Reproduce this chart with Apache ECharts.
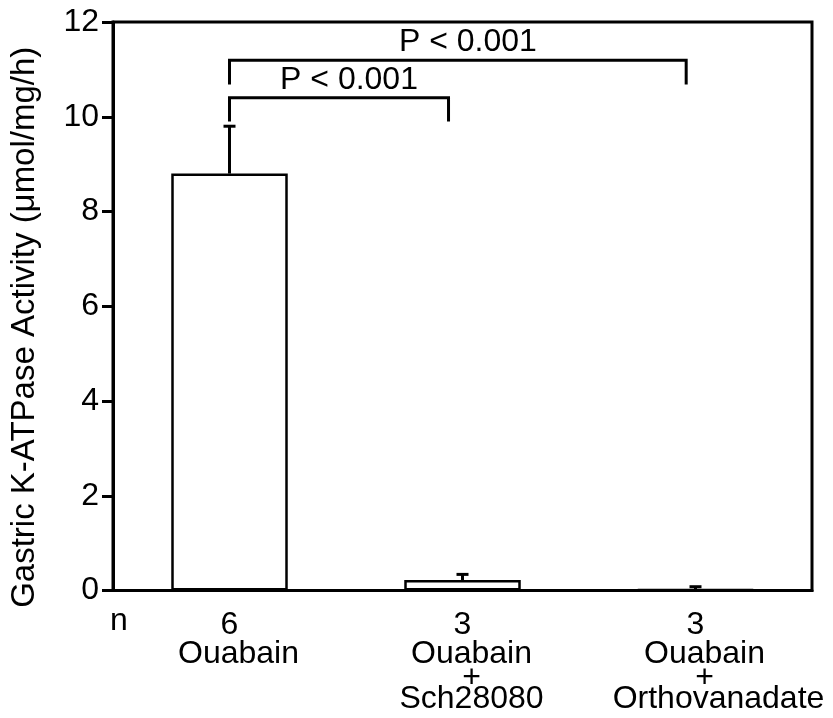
<!DOCTYPE html>
<html>
<head>
<meta charset="utf-8">
<script src="https://cdn.jsdelivr.net/npm/echarts@6/dist/echarts.min.js"></script>
<style>
  html, body { margin: 0; padding: 0; background: #fff; }
  #chart { width: 833px; height: 718px; }
</style>
</head>
<body>
<div id="chart"></div>
<script>
// Treatment groups (each line of the x label), sample sizes and measured activity
const groupNames = [['Ouabain'], ['Ouabain', '+', 'Sch28080'], ['Ouabain', '+', 'Orthovanadate']];
const nValues = [6, 3, 3];
const means = [8.8, 0.22, 0.02];
const sems = [1.0, 0.12, 0.06];

// Y axis range
const yMin = 0, yMax = 12, yStep = 2;

// Significance brackets (positions on the group index scale, heights in activity units)
const bracketFrom = [0, 0];
const bracketTo = [0.94, 1.96];
const bracketTop = [10.4, 11.19];
const bracketLegEnd = [9.9, 10.68];
const bracketText = ['P < 0.001', 'P < 0.001'];

const FONT = '"Liberation Sans", Arial, Helvetica, sans-serif';
const FS = 32;
const LW = 3;

const chart = echarts.init(document.getElementById('chart'));

const categories = groupNames.map((g, i) => String(i));

const errorData = means.map((m, i) => [i, m, m + sems[i]]);
const bracketData = bracketFrom.map((f, i) => [f, bracketTo[i], bracketTop[i], bracketLegEnd[i], i]);

chart.setOption({
  animation: false,
  grid: {
    left: 113, right: 21, top: 22, bottom: 127.5,
    show: true, borderColor: '#000', borderWidth: LW, backgroundColor: 'transparent'
  },
  xAxis: [{
    type: 'category',
    data: categories,
    axisLine: { onZero: false, lineStyle: { color: '#000', width: LW } },
    axisTick: { alignWithLabel: true, length: 12, lineStyle: { color: '#000', width: LW } },
    axisLabel: {
      margin: 19,
      interval: 0,
      color: '#000',
      fontFamily: FONT,
      fontSize: FS,
      formatter: function (v) {
        const i = +v;
        const parts = ['{n|' + nValues[i] + '}'];
        groupNames[i].forEach((s, k) => {
          let key = k === 0 ? 'a' : (k === 1 ? 'p' : 'b');
          if (k === 2 && s.length > 10) key = 'w';
          parts.push('{' + key + '|' + s + '}');
        });
        return parts.join('\n');
      },
      rich: {
        n: { fontFamily: FONT, fontSize: FS, lineHeight: 31, color: '#000' },
        a: { fontFamily: FONT, fontSize: FS, lineHeight: 27, color: '#000', padding: [0, 0, 0, 18] },
        p: { fontFamily: FONT, fontSize: FS, lineHeight: 22, color: '#000', padding: [0, 0, 0, 18] },
        b: { fontFamily: FONT, fontSize: FS, lineHeight: 20, color: '#000', padding: [0, 0, 0, 18] },
        w: { fontFamily: FONT, fontSize: FS, lineHeight: 20, color: '#000', padding: [0, 0, 0, 46] }
      }
    },
    splitLine: { show: false }
  }, {
    type: 'value',
    min: -0.5, max: 2.5,
    show: false
  }],
  yAxis: {
    type: 'value',
    min: yMin, max: yMax, interval: yStep,
    name: 'Gastric K-ATPase Activity (\u03bcmol/mg/h)',
    nameLocation: 'middle',
    nameGap: 72,
    nameTextStyle: { color: '#000', fontFamily: FONT, fontSize: 33, padding: [0, 42, 0, 0] },
    axisLine: { show: true, onZero: false, lineStyle: { color: '#000', width: LW } },
    axisTick: { show: true, length: 11, lineStyle: { color: '#000', width: LW } },
    axisLabel: { color: '#000', fontFamily: FONT, fontSize: FS, margin: 14 },
    splitLine: { show: false }
  },
  graphic: [{
    type: 'text',
    left: 110, top: 605,
    style: { text: 'n', fill: '#000', font: FS + 'px ' + FONT }
  }],
  series: [{
    type: 'bar',
    data: means,
    barWidth: '50%',
    itemStyle: { color: '#fff', borderColor: '#000', borderWidth: 2.5 },
    z: 2
  }, {
    type: 'custom',
    data: errorData,
    z: 3,
    renderItem: function (params, api) {
      const base = api.coord([api.value(0), api.value(1)]);
      const top = api.coord([api.value(0), api.value(2)]);
      const hw = 6;
      return {
        type: 'group',
        children: [{
          type: 'line',
          shape: { x1: base[0], y1: base[1], x2: top[0], y2: top[1] },
          style: { stroke: '#000', lineWidth: LW }
        }, {
          type: 'line',
          shape: { x1: top[0] - hw, y1: top[1], x2: top[0] + hw, y2: top[1] },
          style: { stroke: '#000', lineWidth: LW }
        }]
      };
    }
  }, {
    type: 'custom',
    xAxisIndex: 1,
    data: bracketData,
    z: 4,
    renderItem: function (params, api) {
      const x0 = api.value(0), x1 = api.value(1), yt = api.value(2), yl = api.value(3);
      const pA = api.coord([x0, yl]).slice();
      const pB = api.coord([x0, yt]).slice();
      const pC = api.coord([x1, yt]).slice();
      const pD = api.coord([x1, yl]).slice();
      const idx = api.value(4);
      return {
        type: 'group',
        children: [{
          type: 'polyline',
          shape: { points: [pA, pB, pC, pD] },
          style: { stroke: '#000', lineWidth: LW, fill: null }
        }, {
          type: 'text',
          style: {
            x: (pB[0] + pC[0]) / 2 + 10,
            y: pB[1] - 18,
            text: bracketText[idx],
            fill: '#000',
            font: FS + 'px ' + FONT,
            textAlign: 'center',
            textVerticalAlign: 'middle'
          }
        }]
      };
    }
  }]
});
</script>
</body>
</html>
